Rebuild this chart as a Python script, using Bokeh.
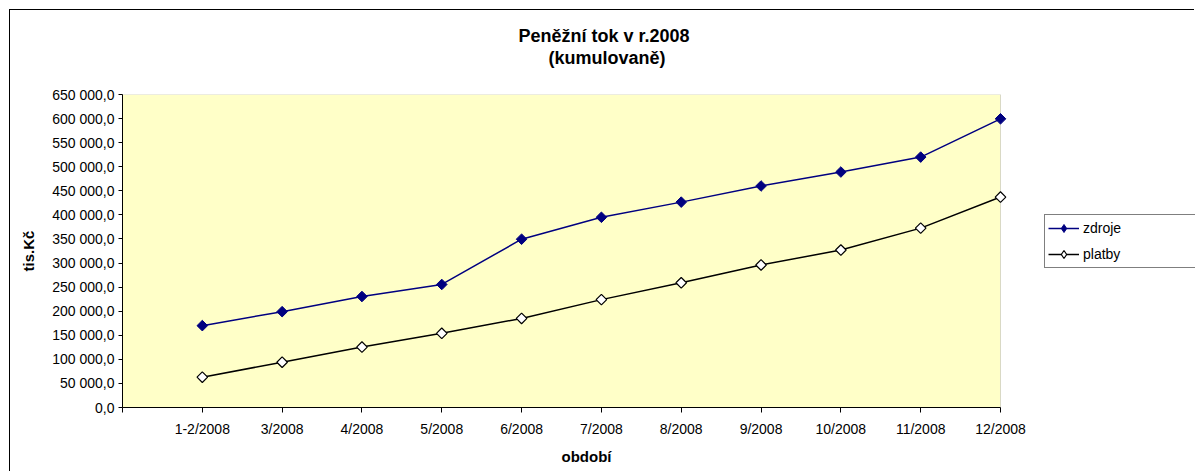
from bokeh.plotting import figure
from bokeh.models import Range1d, FixedTicker, Legend, LegendItem, Title, BoxAnnotation
from bokeh.embed import file_html
from bokeh.resources import INLINE

# ---- data ----
categories = ["1-2/2008", "3/2008", "4/2008", "5/2008", "6/2008", "7/2008",
              "8/2008", "9/2008", "10/2008", "11/2008", "12/2008"]
zdroje = [170000, 199000, 230500, 255500, 349500, 395000,
          426500, 460000, 489000, 520000, 599500]
platby = [63000, 94000, 125500, 154000, 185000, 224000,
          259000, 296000, 327000, 372500, 437000]
y_ticks = list(range(0, 650001, 50000))

title_line1 = "Peněžní tok  v r.2008"
title_line2 = "(kumulovaně)"
x_label = "období"
y_label = "tis.Kč"
series_names = ["zdroje", "platby"]

FONT = "Liberation Sans"


def fmt_cz(v):
    return f"{v:,.1f}".replace(",", " ").replace(".", ",")


n = len(categories)
x_idx = [i + 1 for i in range(n)]
y_max = y_ticks[-1]

# the drawing area continues to the right edge (white); the yellow plot
# area is painted only over the category span
plot_px = 878.0
frame_px = 1073.0
x_end = n * frame_px / plot_px

p = figure(width=1185, height=462, output_backend="svg", toolbar_location=None,
           x_range=Range1d(0, x_end), y_range=Range1d(0, y_max),
           min_border_left=112, min_border_top=84, min_border_right=0,
           min_border_bottom=65)
p.styles = {"margin-left": "9px", "margin-top": "9px",
            "border-left": "1px solid #000000", "border-top": "1px solid #000000"}

p.background_fill_color = "white"
p.border_fill_color = "white"
p.outline_line_color = None
p.xgrid.visible = False
p.ygrid.visible = False

plot_area = BoxAnnotation(left=0, right=n, bottom=0, top=y_max,
                          fill_color="#FFFFC8", fill_alpha=1,
                          line_color="#808080", line_width=1, level="underlay")
p.add_layout(plot_area)

# titles (first added sits closest to the frame)
spacer = Title(text=" ", text_font_size="1px", standoff=24)
t2 = Title(text=title_line2, align="left", offset=426, text_font=FONT,
           text_font_size="18px", text_font_style="bold", text_color="black",
           standoff=0)
t1 = Title(text=title_line1, align="left", offset=396, text_font=FONT,
           text_font_size="18px", text_font_style="bold", text_color="black",
           standoff=0)
p.add_layout(spacer, "above")
p.add_layout(t2, "above")
p.add_layout(t1, "above")

# axes
xa = p.xaxis[0]
xa.bounds = (0, n)
xa.ticker = FixedTicker(ticks=[0] + x_idx)
overrides = {0: ""}
for i, c in zip(x_idx, categories):
    overrides[i] = c
xa.major_label_overrides = overrides
xa.minor_tick_line_color = None
xa.major_tick_in = 0
xa.major_tick_out = 5
xa.axis_line_color = "black"
xa.major_tick_line_color = "black"
xa.major_label_text_font = FONT
xa.major_label_text_font_size = "14px"
xa.major_label_text_color = "black"
xa.major_label_standoff = 8

# x axis title below the tick labels
p.add_layout(Title(text=x_label, align="left", offset=439, text_font=FONT,
                   text_font_size="15px", text_font_style="bold",
                   text_color="black", standoff=12), "below")

ya = p.yaxis[0]
ya.ticker = FixedTicker(ticks=y_ticks)
ya.major_label_overrides = {t: fmt_cz(t) for t in y_ticks}
ya.minor_tick_line_color = None
ya.major_tick_in = 0
ya.major_tick_out = 4
ya.axis_line_color = "black"
ya.major_tick_line_color = "black"
ya.major_label_text_font = FONT
ya.major_label_text_font_size = "14px"
ya.major_label_text_color = "black"
ya.major_label_standoff = 4
ya.axis_label = y_label
ya.axis_label_text_font = FONT
ya.axis_label_text_font_size = "15px"
ya.axis_label_text_font_style = "bold"
ya.axis_label_text_color = "black"
ya.axis_label_standoff = 12

# series
l1 = p.line(x_idx, zdroje, line_color="#000080", line_width=1.5)
p.scatter(x_idx, zdroje, marker="square", angle=0.785398, size=7.5,
          fill_color="#000080", line_color="#000080")
l2 = p.line(x_idx, platby, line_color="black", line_width=1.5)
p.scatter(x_idx, platby, marker="square", angle=0.785398, size=7.5,
          fill_color="white", line_color="black", line_width=1.2)

# hidden diamond renderers used only for the legend symbols
m1 = p.scatter(x_idx, zdroje, marker="diamond", size=13,
               fill_color="#000080", line_color="#000080", visible=False)
m2 = p.scatter(x_idx, platby, marker="diamond", size=13,
               fill_color="white", line_color="black", line_width=1.2,
               visible=False)

legend = Legend(items=[LegendItem(label=series_names[0], renderers=[l1, m1]),
                       LegendItem(label=series_names[1], renderers=[l2, m2])],
                location=(922, 139), orientation="vertical",
                border_line_color="black", border_line_width=1,
                background_fill_color="white", background_fill_alpha=1,
                label_text_font=FONT, label_text_font_size="14px",
                label_text_color="black",
                glyph_width=31, glyph_height=20, label_height=20,
                label_width=120, spacing=6, padding=3, margin=0,
                label_standoff=4, click_policy="none")
p.add_layout(legend, "center")

open("out.html", "w").write(file_html(p, INLINE))
